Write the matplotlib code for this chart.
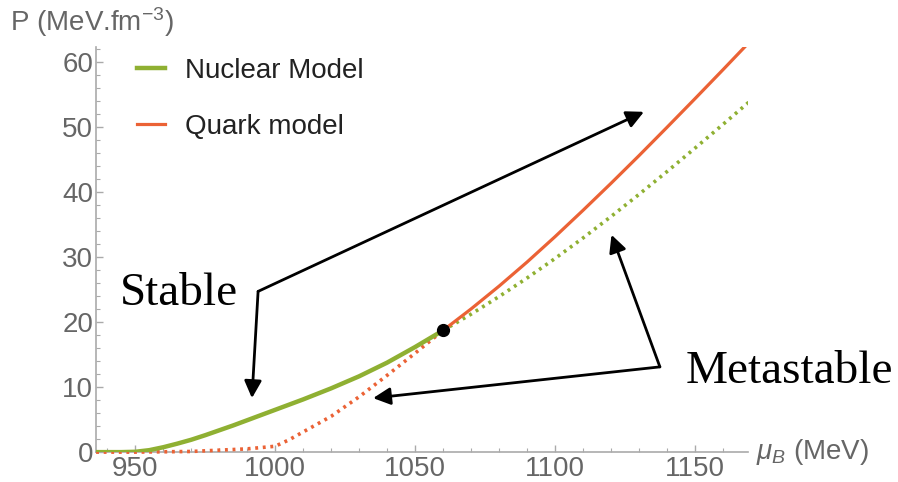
import matplotlib
matplotlib.use('Agg')
import matplotlib.pyplot as plt
from matplotlib.ticker import MultipleLocator

# ── Data ──────────────────────────────────────────────────────────────────────
# Nuclear model: stable branch (solid) and metastable continuation (dotted)
mu_nuc_stable = [936, 945, 950, 955, 960, 965, 970, 975, 980, 985, 990, 995, 1000,
                 1010, 1020, 1030, 1040, 1050, 1060]
P_nuc_stable  = [0, 0, 0.05, 0.3, 0.75, 1.3, 1.9, 2.6, 3.35, 4.1, 4.9, 5.7, 6.5,
                 8.1, 9.8, 11.65, 13.75, 16.15, 18.7]
mu_nuc_meta   = [1060, 1070, 1080, 1090, 1100, 1110, 1120, 1130, 1140, 1150, 1160, 1170]
P_nuc_meta    = [18.7, 21.2, 23.9, 26.75, 29.75, 32.9, 36.2, 39.6, 43.1, 46.7, 50.35, 54.05]

# Quark model: metastable branch (dotted) and stable branch (solid)
mu_qrk_meta   = [936, 950, 970, 990, 1000, 1005, 1010, 1020, 1030, 1040, 1050, 1060]
P_qrk_meta    = [0, 0, 0.1, 0.5, 0.9, 1.9, 3.1, 5.5, 8.5, 11.8, 15.2, 18.7]
mu_qrk_stable = [1060, 1070, 1080, 1090, 1100, 1110, 1120, 1130, 1140, 1150, 1160, 1170]
P_qrk_stable  = [18.7, 22.0, 25.5, 29.2, 33.1, 37.15, 41.3, 45.55, 49.9, 54.3, 58.75, 63.25]

# Crossing point
mu_cross, P_cross = 1060, 18.7

GREEN = '#8FB032'
RED   = '#EB6235'
GRAY  = '#666666'
AXC   = '#AAAAAA'

plt.rcParams['font.family'] = ['Liberation Sans', 'DejaVu Sans']
plt.rcParams['mathtext.fontset'] = 'custom'
plt.rcParams['mathtext.rm'] = 'Liberation Sans'
plt.rcParams['mathtext.it'] = 'Liberation Sans:italic'

fig = plt.figure(figsize=(8.98, 4.82), dpi=100)
ax = fig.add_axes([0.107, 0.062, 0.726, 0.841])

dots = (0, (0.8, 1.3))
ax.plot(mu_qrk_meta, P_qrk_meta, color=RED, lw=2.6, ls=dots, clip_on=False, zorder=3)
ax.plot(mu_nuc_meta, P_nuc_meta, color=GREEN, lw=2.6, ls=dots, zorder=3)
ax.plot(mu_nuc_stable, P_nuc_stable, color=GREEN, lw=3.2, label='Nuclear Model', zorder=4)
ax.plot(mu_qrk_stable, P_qrk_stable, color=RED, lw=2.3, label='Quark model', zorder=4)
ax.plot([mu_cross], [P_cross], 'o', color='black', ms=8.5, zorder=6)

ax.set_xlim(936, 1169)
ax.set_ylim(0, 62.3)

ax.xaxis.set_major_locator(MultipleLocator(50))
ax.xaxis.set_minor_locator(MultipleLocator(10))
ax.yaxis.set_major_locator(MultipleLocator(10))
ax.yaxis.set_minor_locator(MultipleLocator(2))
ax.tick_params(which='both', direction='in', color=AXC, labelcolor=GRAY, labelsize=20)
ax.tick_params(which='major', length=5, width=1)
ax.tick_params(which='minor', length=3, width=0.8)
ax.tick_params(axis='y', pad=2)
ax.tick_params(axis='x', pad=3)

for side in ['top', 'right']:
    ax.spines[side].set_visible(False)
for side in ['left', 'bottom']:
    ax.spines[side].set_color(AXC)
    ax.spines[side].set_linewidth(1.2)

# axis labels, Mathematica style
fig.text(0.011, 0.955, 'P (MeV.fm$^{-3}$)', color=GRAY, fontsize=20, va='center', ha='left')
ax.text(1.012, 0.0, r'$\mu_B$ (MeV)', transform=ax.transAxes, color=GRAY, fontsize=20,
        va='center', ha='left')

leg = ax.legend(loc='upper left', bbox_to_anchor=(0.025, 1.035), frameon=False, fontsize=20,
                handlelength=1.0, handletextpad=0.7, labelspacing=1.1)
for t in leg.get_texts():
    t.set_color('#222222')

# ── Annotations ───────────────────────────────────────────────────────────────
arrow = dict(arrowstyle='-|>', color='black', lw=2, mutation_scale=26, shrinkA=0, shrinkB=0)
stable_joint = (993.9, 24.7)
meta_joint = (1137.5, 13.1)
for tip in [(1131.8, 52.3), (991.7, 8.3)]:
    ax.annotate('', xy=tip, xytext=stable_joint, arrowprops=arrow, annotation_clip=False)
for tip in [(1120.2, 33.4), (1035.0, 8.3)]:
    ax.annotate('', xy=tip, xytext=meta_joint, arrowprops=arrow, annotation_clip=False)

serif = ['Liberation Serif', 'DejaVu Serif']
ax.text(944.6, 24.3, 'Stable', family=serif, fontsize=34, va='center', ha='left')
ax.text(1146.8, 12.3, 'Metastable', family=serif, fontsize=34, va='center', ha='left',
        clip_on=False)

plt.savefig('out.png', dpi=100)
